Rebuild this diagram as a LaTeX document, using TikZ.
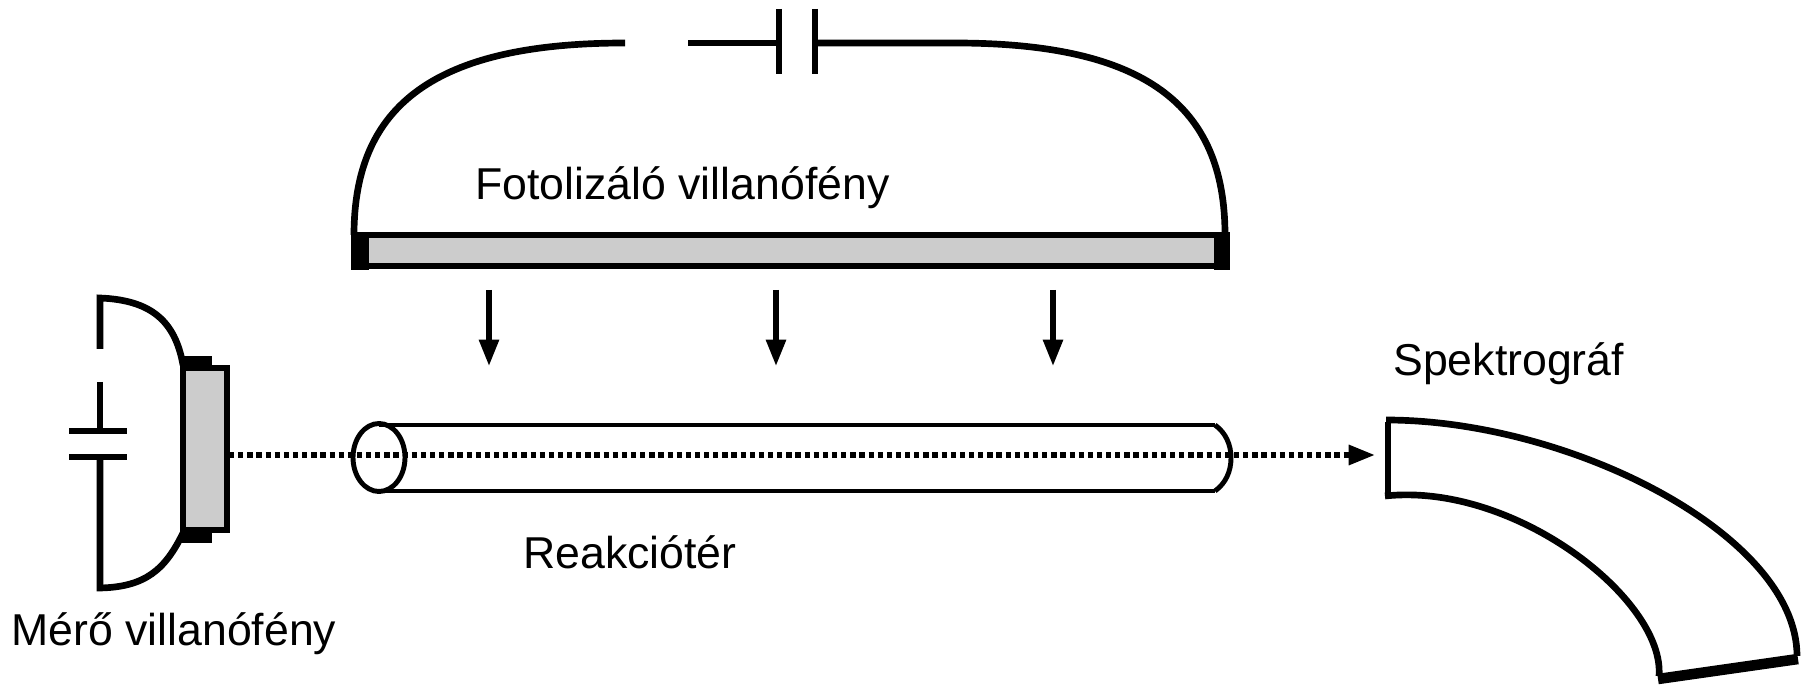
\documentclass[tikz,border=0pt]{standalone}
\usepackage{fontspec}
\setmainfont{Liberation Sans}
\usetikzlibrary{arrows.meta}
\newcommand{\topy}{43}
\newcommand{\beamy}{455}
\tikzset{
  wire/.style={line width=3.8pt},
  tube/.style={line width=2.8pt},
  lamp/.style={line width=3.9pt, fill=black!20},
  label/.style={anchor=base west, inner sep=0pt, font=\fontsize{25.4}{30}\selectfont},
}
\begin{document}
\begin{tikzpicture}[x=0.02cm,y=-0.02cm]
\useasboundingbox (0,0) rectangle (1804,685);

% photolysis flash
\draw[wire] (354,235) .. controls (354,105) and (435,43) .. (625,43);
\draw[wire] (688,\topy) -- (779,\topy);
\draw[wire] (815,\topy) -- (955,\topy) .. controls (1145,43) and (1225,105) .. (1225,235);
\foreach \i in {779,815}
  \draw[wire] (\i,9) -- (\i,74);
\draw[lamp] (358,235) rectangle (1222,266);
\fill (351,232) rectangle (369,270);
\fill (1214,232) rectangle (1230,270);
\node[label] (fotolamp) at (475,200) {Fotolizáló villanófény};

%% light arrows
\foreach \i in {489,776,1053}
  \draw[line width=3pt, -{Triangle[width=18pt,length=15pt,angle'=40]}] (\i,290) -- (\i,366);

% reaction tube
\draw[tube] (379,425) -- (1215,425);
\draw[tube] (379,491) -- (1215,491);
\draw[tube] (379,457.5) ellipse [x radius=26, y radius=34];
\draw[tube] (1215,425) .. controls (1226,433) and (1231,445) .. (1231,458)
            .. controls (1231,471) and (1226,483) .. (1215,491);
\node[label] (reaktor) at (523,568) {Reakciótér};

% probe flash
\draw[wire] (100,349) -- (100,298) .. controls (150,300) and (175,320) .. (183,365);
\draw[wire] (100,382) -- (100,431);
\draw[wire] (100,457) -- (100,588) .. controls (145,587) and (165,570) .. (183,533);
\foreach \i in {431,457}
  \draw[wire] (69,\i) -- (127,\i);
\fill (180,356) rectangle (212,368);
\fill (180,530) rectangle (212,543);
\draw[lamp] (183,368) rectangle (227,530);
\node[label] (merolamp) at (11,645) {Mérő villanófény};

% beam
\coordinate (beamstart) at (229,\beamy);
\coordinate (beamend) at (1375,\beamy);
\draw[line width=3.2pt, dash pattern=on 3pt off 2.2pt, -{Triangle[width=16pt,length=15pt,angle'=40]}] (beamstart) -- (beamend);

% spectrograph
\draw[wire] (1388,496) -- (1388,422);
\draw[wire] (1386,420) .. controls (1570,420) and (1797,535) .. (1797,656);
\draw[wire] (1385,496) .. controls (1515,482) and (1665,600) .. (1659,676);
\draw[line width=6pt] (1658,679) -- (1798,659);
\node[label] (spektro) at (1393,376) {Spektrográf};
\end{tikzpicture}
\end{document}
